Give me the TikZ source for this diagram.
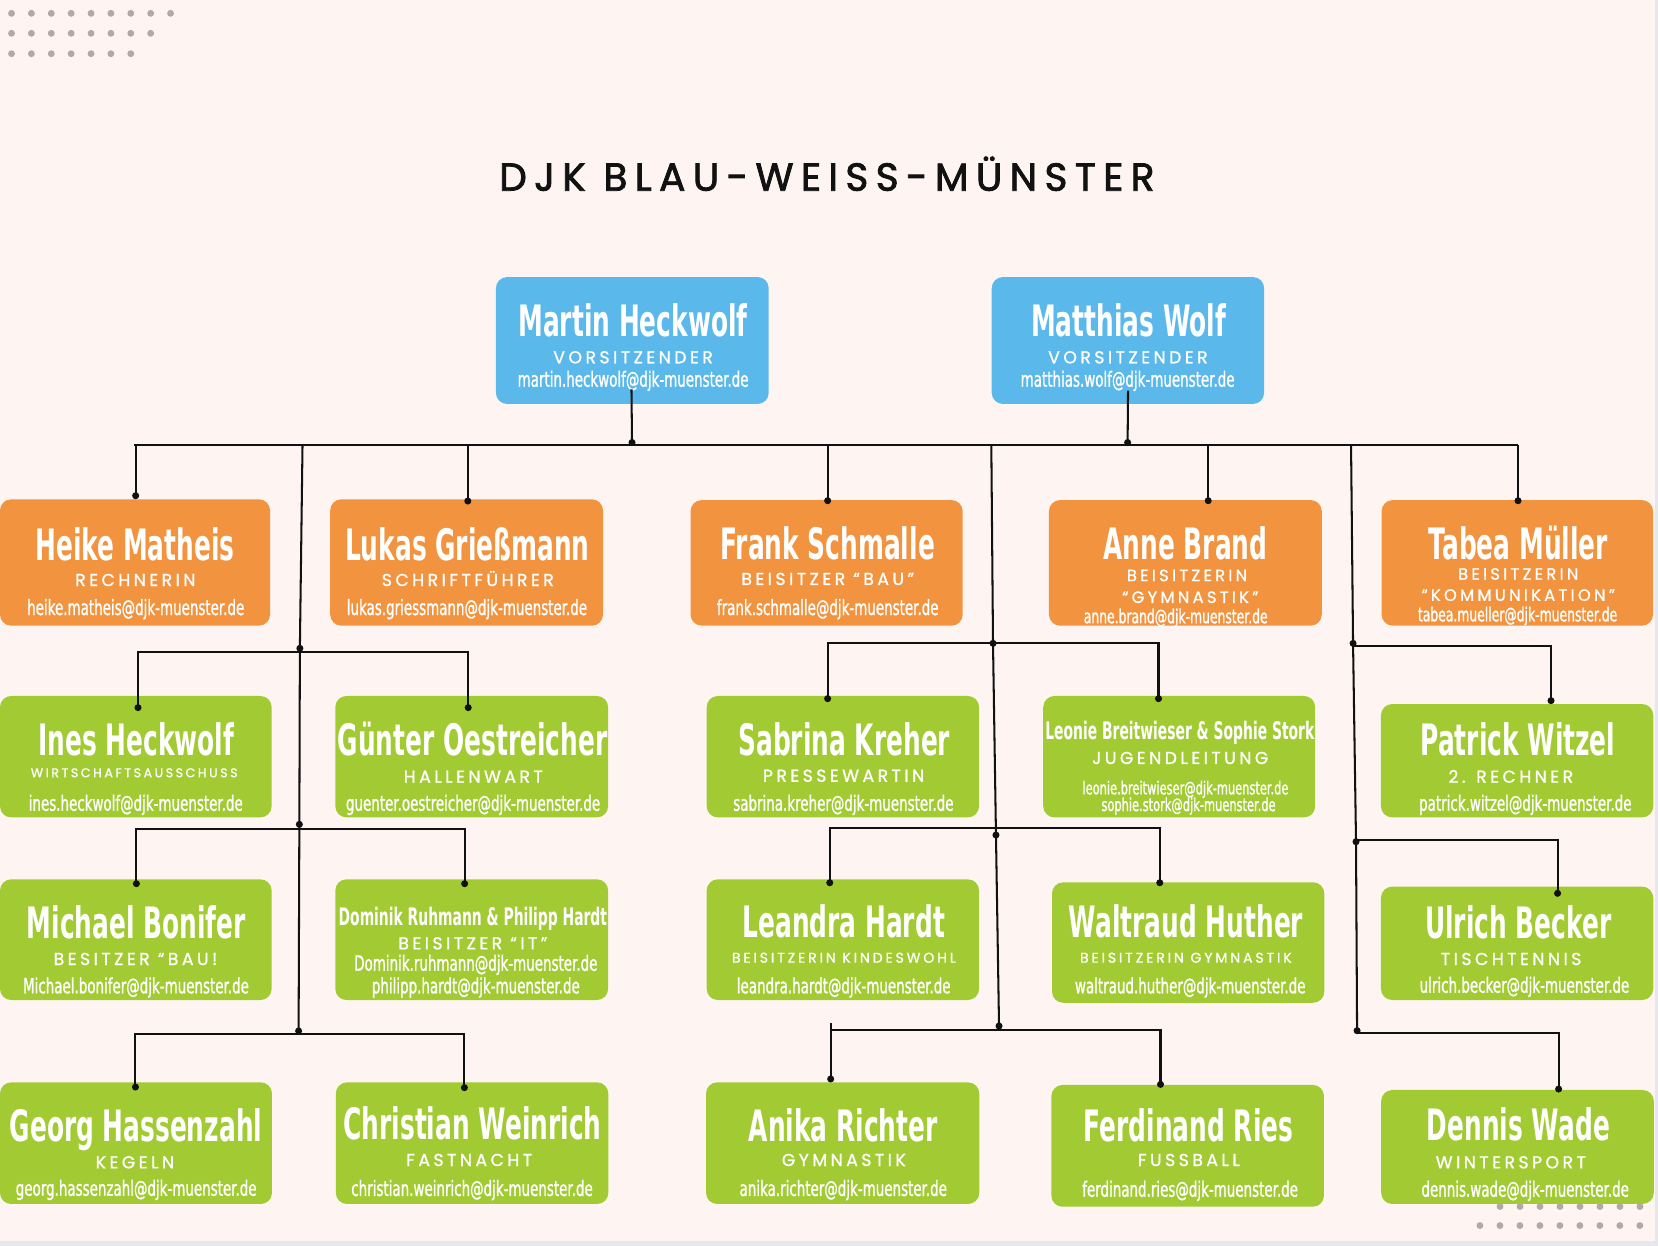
\documentclass[tikz,border=0pt]{standalone}
\usepackage{fontspec}
\usetikzlibrary{fit}
\newfontfamily\namefont[FakeStretch=0.575]{DejaVu Sans}
\newfontfamily\mailfont[FakeStretch=0.64,FakeBold=1]{DejaVu Sans}
\newfontfamily\rolefont[LetterSpace=20,FakeBold=1]{Poppins}
\newfontfamily\titlefont[LetterSpace=19,FakeBold=2]{Poppins}
\definecolor{bgc}{HTML}{FEF5F2}
\definecolor{stripc}{HTML}{E5E7EB}
\definecolor{decoc}{HTML}{B4A7A7}
\definecolor{bluec}{HTML}{5AB8EA}
\definecolor{orangec}{HTML}{F2943F}
\definecolor{greenc}{HTML}{A2CB33}
\definecolor{linec}{HTML}{111111}
\tikzset{
  box/.style={rounded corners=6pt, inner sep=0pt, draw=none},
  namet/.style={anchor=base, text=white, inner sep=0pt, font={\namefont\bfseries\fontsize{#1}{#1}\selectfont}},
  namet/.default=23.3,
  rolet/.style={anchor=base, text=white, inner sep=0pt, font={\rolefont\fontsize{#1}{#1}\selectfont}},
  rolet/.default=9.3,
  mailt/.style={anchor=base, text=white, inner sep=0pt, font={\mailfont\fontsize{#1}{#1}\selectfont}},
  mailt/.default=11.3,
  titlet/.style={anchor=base, text=linec, inner sep=0pt, font={\titlefont\fontsize{21}{21}\selectfont}},
  link/.style={line width=1.1pt, draw=linec},
  jdot/.style={fill=linec},
}
\begin{document}
\begin{tikzpicture}[x=0.02cm,y=-0.02cm]
\useasboundingbox (0,0) rectangle (1568,1178);
\fill[bgc] (0,0) rectangle (1568,1178);
\fill[stripc] (0,1174) rectangle (1568,1178);
\fill[stripc] (1565,0) rectangle (1568,1178);
% decorative dots
\foreach \i in {0,...,8} \fill[decoc] (10.9+18.8*\i,12.6) circle (1.85pt);
\foreach \i in {0,...,7} \fill[decoc] (10.9+18.8*\i,31.5) circle (1.85pt);
\foreach \i in {0,...,6} \fill[decoc] (10.9+18.8*\i,50.8) circle (1.85pt);
\foreach \i in {0,...,7} \fill[decoc] (1418.6+18.9*\i,1141) circle (1.85pt);
\foreach \i in {0,...,8} \fill[decoc] (1399.6+18.9*\i,1159) circle (1.85pt);

\node[titlet] (title) at (782,180.3) {DJK BLAU-WEISS-MÜNSTER};

% ---------- boxes
\node[box, fill=bluec, fit={(469,262) (727,382)}] (martin) {};
\node[box, fill=bluec, fit={(937.9,262) (1195.5,382)}] (matthias) {};

\node[box, fill=orangec, fit={(0,472.2) (255.4,591.7)}] (heike) {};
\node[box, fill=orangec, fit={(312.3,472.2) (570.3,591.7)}] (lukas) {};
\node[box, fill=orangec, fit={(653.1,472.9) (910.4,591.7)}] (frank) {};
\node[box, fill=orangec, fit={(992,472.9) (1250,591.7)}] (anne) {};
\node[box, fill=orangec, fit={(1306.6,472.9) (1563.3,591.7)}] (tabea) {};

\node[box, fill=greenc, fit={(0,658.2) (256.9,773)}] (ines) {};
\node[box, fill=greenc, fit={(317.1,658.2) (575.1,773)}] (guenter) {};
\node[box, fill=greenc, fit={(668.3,658.2) (925.9,773)}] (sabrina) {};
\node[box, fill=greenc, fit={(986.6,658.2) (1243.8,773)}] (leonie) {};
\node[box, fill=greenc, fit={(1306,665.8) (1563.5,773)}] (patrick) {};

\node[box, fill=greenc, fit={(0,831.6) (256.9,945.7)}] (michael) {};
\node[box, fill=greenc, fit={(317.1,831.6) (575.1,945.7)}] (dominik) {};
\node[box, fill=greenc, fit={(668.3,831.6) (925.9,945.7)}] (leandra) {};
\node[box, fill=greenc, fit={(994.9,834.4) (1252.4,948.3)}] (waltraud) {};
\node[box, fill=greenc, fit={(1306,838.5) (1563.5,945.7)}] (ulrich) {};

\node[box, fill=greenc, fit={(0,1023.6) (257.2,1138.6)}] (georg) {};
\node[box, fill=greenc, fit={(317.6,1023.6) (575.3,1138.6)}] (christian) {};
\node[box, fill=greenc, fit={(667.7,1023.6) (926.1,1138.6)}] (anika) {};
\node[box, fill=greenc, fit={(994.3,1026) (1252.1,1141.2)}] (ferdinand) {};
\node[box, fill=greenc, fit={(1306.2,1030.8) (1564,1138.6)}] (dennis) {};

% ---------- texts
\node[namet] (martin-n) at (598.6,318.4) {Martin Heckwolf};
\node[rolet] (martin-r) at (598.7,343.6) {VORSITZENDER};
\node[mailt] (martin-m) at (598.7,365.7) {martin.heckwolf@djk-muenster.de};

\node[namet] (matthias-n) at (1067.4,318.4) {Matthias Wolf};
\node[rolet] (matthias-r) at (1066.7,343.6) {VORSITZENDER};
\node[mailt] (matthias-m) at (1066.4,365.7) {matthias.wolf@djk-muenster.de};

\node[namet] (heike-n) at (127.7,529.6) {Heike Matheis};
\node[rolet] (heike-r) at (128,554.2) {RECHNERIN};
\node[mailt] (heike-m) at (128.4,581.6) {heike.matheis@djk-muenster.de};

\node[namet] (lukas-n) at (442,529.6) {Lukas Grießmann};
\node[rolet] (lukas-r) at (442.4,554.2) {SCHRIFTFÜHRER};
\node[mailt] (lukas-m) at (441.6,581.6) {lukas.griessmann@djk-muenster.de};

\node[namet] (frank-n) at (782.7,529) {Frank Schmalle};
\node[rolet] (frank-r) at (782.8,553.2) {BEISITZER “BAU”};
\node[mailt] (frank-m) at (782.8,581.6) {frank.schmalle@djk-muenster.de};

\node[namet] (anne-n) at (1121.1,529) {Anne Brand};
\node[rolet=8.8] (anne-r) at (1122.6,549.6) {BEISITZERIN};
\node[rolet=8.8] (anne-r2) at (1125.7,570.2) {“GYMNASTIK”};
\node[mailt=10.4] (anne-m) at (1111.9,589.4) {anne.brand@djk-muenster.de};

\node[namet] (tabea-n) at (1435.8,529) {Tabea Müller};
\node[rolet=8.8] (tabea-r) at (1435.8,548.2) {BEISITZERIN};
\node[rolet=8.8] (tabea-r2) at (1435.8,568.2) {“KOMMUNIKATION”};
\node[mailt=10.4] (tabea-m) at (1435.2,587.6) {tabea.mueller@djk-muenster.de};

\node[namet] (ines-n) at (128.8,714) {Ines Heckwolf};
\node[rolet=6.8] (ines-r) at (126.9,735) {WIRTSCHAFTSAUSSCHUSS};
\node[mailt] (ines-m) at (128.4,766.7) {ines.heckwolf@djk-muenster.de};

\node[namet] (guenter-n) at (446.9,714) {Günter Oestreicher};
\node[rolet] (guenter-r) at (447.6,740.2) {HALLENWART};
\node[mailt] (guenter-m) at (447.4,766.7) {guenter.oestreicher@djk-muenster.de};

\node[namet] (sabrina-n) at (798.4,714) {Sabrina Kreher};
\node[rolet] (sabrina-r) at (797.8,739.3) {PRESSEWARTIN};
\node[mailt] (sabrina-m) at (797.6,766.7) {sabrina.kreher@djk-muenster.de};

\node[namet=13] (leonie-n) at (1115.8,699.2) {Leonie Breitwieser \& Sophie Stork};
\node[rolet] (leonie-r) at (1116.2,722.5) {JUGENDLEITUNG};
\node[mailt=9.6] (leonie-m) at (1121.1,751.2) {leonie.breitwieser@djk-muenster.de};
\node[mailt=9.6] (leonie-m2) at (1124,767) {sophie.stork@djk-muenster.de};

\node[namet] (patrick-n) at (1435.5,714) {Patrick Witzel};
\node[rolet] (patrick-r) at (1428.8,740.2) {2. RECHNER};
\node[mailt] (patrick-m) at (1442.5,766.7) {patrick.witzel@djk-muenster.de};

\node[namet] (michael-n) at (129,887.4) {Michael Bonifer};
\node[rolet] (michael-r) at (128.1,912.6) {BESITZER “BAU!};
\node[mailt] (michael-m) at (128.6,939.4) {Michael.bonifer@djk-muenster.de};

\node[namet=13] (dominik-n) at (447.2,875.7) {Dominik Ruhmann \& Philipp Hardt};
\node[rolet] (dominik-r) at (447.2,897.8) {BEISITZER “IT”};
\node[mailt] (dominik-m) at (450,918) {Dominik.ruhmann@djk-muenster.de};
\node[mailt] (dominik-m2) at (450,939.4) {philipp.hardt@djk-muenster.de};

\node[namet] (leandra-n) at (797.9,886.8) {Leandra Hardt};
\node[rolet=7.6] (leandra-r) at (798.1,910.4) {BEISITZERIN KINDESWOHL};
\node[mailt] (leandra-m) at (797.9,939.4) {leandra.hardt@djk-muenster.de};

\node[namet] (waltraud-n) at (1121.6,886.8) {Waltraud Huther};
\node[rolet=7.6] (waltraud-r) at (1121.5,910.4) {BEISITZERIN GYMNASTIK};
\node[mailt] (waltraud-m) at (1125.6,939.4) {waltraud.huther@djk-muenster.de};

\node[namet] (ulrich-n) at (1435.9,887.4) {Ulrich Becker};
\node[rolet] (ulrich-r) at (1429.1,912.6) {TISCHTENNIS};
\node[mailt] (ulrich-m) at (1441.7,938.8) {ulrich.becker@djk-muenster.de};

\node[namet] (georg-n) at (128.6,1079.7) {Georg Hassenzahl};
\node[rolet] (georg-r) at (127.6,1104.9) {KEGELN};
\node[mailt] (georg-m) at (128.8,1130.8) {georg.hassenzahl@djk-muenster.de};

\node[namet] (christian-n) at (446.9,1077.5) {Christian Weinrich};
\node[rolet] (christian-r) at (443.7,1102.7) {FASTNACHT};
\node[mailt] (christian-m) at (446.4,1131) {christian.weinrich@djk-muenster.de};

\node[namet] (anika-n) at (797.5,1079.7) {Anika Richter};
\node[rolet] (anika-r) at (798,1102.7) {GYMNASTIK};
\node[mailt] (anika-m) at (797.5,1131) {anika.richter@djk-muenster.de};

\node[namet] (ferdinand-n) at (1124,1079.7) {Ferdinand Ries};
\node[rolet] (ferdinand-r) at (1124.3,1102.7) {FUSSBALL};
\node[mailt] (ferdinand-m) at (1125.5,1131.7) {ferdinand.ries@djk-muenster.de};

\node[namet] (dennis-n) at (1435.9,1078.7) {Dennis Wade};
\node[rolet] (dennis-r) at (1428.8,1104.9) {WINTERSPORT};
\node[mailt] (dennis-m) at (1442.4,1131.7) {dennis.wade@djk-muenster.de};

% ---------- connector points
\coordinate (mhA) at (597.2,368.2);  \coordinate (mhB) at (597.7,418.5);
\coordinate (mwA) at (1066.8,369.5); \coordinate (mwB) at (1066.4,418.5);
\coordinate (topL) at (127.1,420.5); \coordinate (topR) at (1435.6,420.5);
\coordinate (o1a) at (128.3,420.5);  \coordinate (o1b) at (128.3,468.8);
\coordinate (o2a) at (442.4,420.5);  \coordinate (o2b) at (442.4,473.8);
\coordinate (o3a) at (782.7,420.5);  \coordinate (o3b) at (782.7,473.5);
\coordinate (o4a) at (1142.6,420.5); \coordinate (o4b) at (1142.6,473.5);
\coordinate (o5a) at (1435.6,420.5); \coordinate (o5b) at (1435.6,473.5);
% left trunk
\coordinate (lt0) at (286.1,420.5); \coordinate (lt1) at (283.6,613.1);
\coordinate (lt2) at (283.1,779.6); \coordinate (lt3) at (282.4,975);
\coordinate (lt4) at (282.4,978);
\coordinate (lb1L) at (130.5,616.6); \coordinate (lb1R) at (442.8,616.6);
\coordinate (lb1a) at (130.5,669.2); \coordinate (lb1b) at (442.8,669.2);
\coordinate (lb2L) at (129,783.7);   \coordinate (lb2R) at (439.4,783.7);
\coordinate (lb2a) at (129,835.7);   \coordinate (lb2b) at (439.4,835.7);
\coordinate (lb3L) at (128.1,977.9); \coordinate (lb3R) at (439.2,977.9);
\coordinate (lb3a) at (128.1,1028);  \coordinate (lb3b) at (439.2,1028.6);
% middle trunk
\coordinate (mt0) at (937.5,420.5); \coordinate (mt1) at (939.1,608.4);
\coordinate (mt2) at (941.9,789.7); \coordinate (mt3) at (944.8,970.3);
\coordinate (mt4) at (945,974.1);
\coordinate (mb1L) at (782.7,607.9); \coordinate (mb1R) at (1095.6,607.9);
\coordinate (mb1a) at (782.7,660.7); \coordinate (mb1b) at (1095.6,660.7);
\coordinate (mb2L) at (784.7,782.7); \coordinate (mb2R) at (1096.8,782.7);
\coordinate (mb2a) at (784.7,834.8); \coordinate (mb2b) at (1096.8,834.8);
\coordinate (mb3L) at (785.6,974.1); \coordinate (mb3R) at (1097.5,974.1);
\coordinate (mb3t) at (785.6,967.8);
\coordinate (mb3a) at (785.6,1020.4); \coordinate (mb3b) at (1097.5,1025.5);
% right trunk
\coordinate (rt0) at (1277.7,420.5); \coordinate (rt1) at (1279.6,608.4);
\coordinate (rt2) at (1282.4,796);   \coordinate (rt3) at (1283.4,974.7);
\coordinate (rt4) at (1283.5,977);
\coordinate (rb1L) at (1279.6,611);  \coordinate (rb1R) at (1468,611);
\coordinate (rb1a) at (1466.8,611);  \coordinate (rb1b) at (1466.8,662.6);
\coordinate (rb2L) at (1282.4,794.4); \coordinate (rb2R) at (1473,794.4);
\coordinate (rb2b) at (1473,844.8);
\coordinate (rb3L) at (1283.4,976.6); \coordinate (rb3R) at (1474,976.6);
\coordinate (rb3b) at (1474,1029.9);

% ---------- connectors
\draw[link] (mhA) -- (mhB);
\draw[link] (mwA) -- (mwB);
\draw[link] (topL) -- (topR);
\draw[link] (o1a) -- (o1b);
\draw[link] (o2a) -- (o2b);
\draw[link] (o3a) -- (o3b);
\draw[link] (o4a) -- (o4b);
\draw[link] (o5a) -- (o5b);
\draw[link] (lt0) -- (lt1) -- (lt2) -- (lt3) -- (lt4);
\draw[link] (lb1a) -- (lb1L) -- (lb1R) -- (lb1b);
\draw[link] (lb2a) -- (lb2L) -- (lb2R) -- (lb2b);
\draw[link] (lb3a) -- (lb3L) -- (lb3R) -- (lb3b);
\draw[link] (mt0) -- (mt1) -- (mt2) -- (mt3) -- (mt4);
\draw[link] (mb1a) -- (mb1L) -- (mb1R) -- (mb1b);
\draw[link] (mb2a) -- (mb2L) -- (mb2R) -- (mb2b);
\draw[link] (mb3L) -- (mb3R) -- (mb3b);
\draw[link] (mb3t) -- (mb3a);
\draw[link] (rt0) -- (rt1) -- (rt2) -- (rt3) -- (rt4);
\draw[link] (rb1L) -- (rb1R);
\draw[link] (rb1a) -- (rb1b);
\draw[link] (rb2L) -- (rb2R) -- (rb2b);
\draw[link] (rb3L) -- (rb3R) -- (rb3b);

% ---------- junction dots
\foreach \p in {mhB,mwB,o1b,o2b,o3b,o4b,o5b,lt1,lt2,lt3,lb1a,lb1b,lb2a,lb2b,lb3a,lb3b,
  mt1,mt2,mt3,mb1a,mb1b,mb2a,mb2b,mb3a,mb3b,rt1,rt2,rt3,rb1b,rb2b,rb3b}
  \fill[jdot] (\p) circle (1.9pt);
\end{tikzpicture}
\end{document}
